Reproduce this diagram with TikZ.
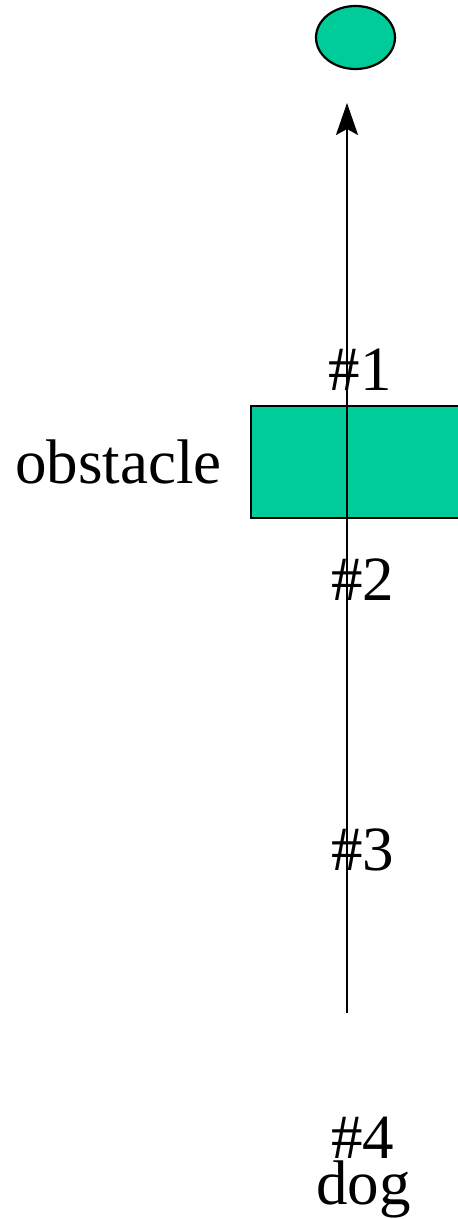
\documentclass[tikz,border=0pt]{standalone}
\usepackage{fontspec}
\setmainfont{Liberation Serif}
\usetikzlibrary{arrows.meta,shapes.geometric}
\definecolor{obsgreen}{RGB}{0,204,153}
\begin{document}
\begin{tikzpicture}[x=1pt,y=-1pt,
  lbl/.style={inner sep=0pt,anchor=base,font=\fontsize{63}{63}\selectfont},
  shapeline/.style={draw=black,line width=2.2pt,fill=obsgreen}]
\useasboundingbox (0,0) rectangle (458,1219);
\node[shapeline,ellipse,minimum width=79pt,minimum height=63pt,inner sep=0pt] (goal) at (355.5,37.5) {};
\path[shapeline] (251,406) rectangle (462,518);
\node[inner sep=0pt] (obs) at (356,462) {};
\coordinate (start) at (347,1013);
\coordinate (tip) at (347,103);
\draw[line width=2pt,-{Stealth[length=32pt,width=22pt,inset=6pt]}] (start) -- (tip);
\node[lbl] (n1) at (360,390) {\#1};
\node[lbl] (n2) at (362.5,600) {\#2};
\node[lbl] (n3) at (362.5,870) {\#3};
\node[lbl] (n4) at (362.5,1158) {\#4};
\node[lbl] (dog) at (363.5,1204) {dog};
\node[lbl,anchor=base east] (obstxt) at (222,483) {obstacle};
\end{tikzpicture}
\end{document}
